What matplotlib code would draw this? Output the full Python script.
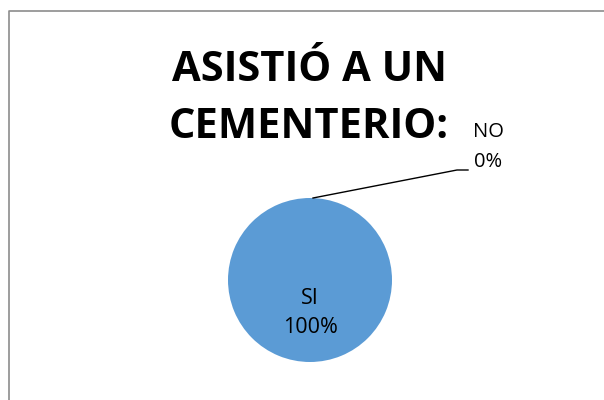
import matplotlib
matplotlib.use("Agg")
import matplotlib.pyplot as plt
import numpy as np

categories = ["SI", "NO"]
values = [100, 0]
colors = ["#5B9BD5", "#ED7D31"]
title = "ASISTIÓ A UN\nCEMENTERIO:"

fig = plt.figure(figsize=(6.04, 4.0), dpi=100)
ax = fig.add_axes([0, 0, 1, 1])

cx, cy, r = 310, 120, 82
wedges, _ = ax.pie(values, colors=colors, startangle=90, counterclock=False,
                   center=(cx, cy), radius=r, frame=True,
                   wedgeprops=dict(linewidth=0))
ax.set_xlim(0, 604)
ax.set_ylim(0, 400)
ax.set_aspect("equal")
ax.axis("off")

# chart border (top & left visible)
ax.plot([8.5, 8.5, 604], [0, 389, 389], color="#8c8c8c", lw=1.2)

total = sum(values)
font = ["Open Sans", "DejaVu Sans"]
for w, cat, v in zip(wedges, categories, values):
    pct = f"{v / total * 100:.0f}%"
    ang = np.deg2rad((w.theta1 + w.theta2) / 2)
    if v / total > 0.5:
        ax.text(310, 87, f"{cat}\n{pct}", ha="center", va="center",
                fontsize=15.5, family=font, linespacing=1.5)
    else:
        x0 = cx + r * np.cos(ang) + 3
        y0 = cy + r * np.sin(ang)
        ax.plot([x0, 457, 468], [y0, 230, 230], color="black", lw=1)
        ax.text(488, 253, f"{cat}\n{pct}", ha="center", va="center",
                fontsize=14.5, family=font, linespacing=1.62)

ax.text(309, 301, title, ha="center", va="center", fontsize=30,
        fontweight="bold", family=font, linespacing=1.52)

fig.savefig("out.png", dpi=100, facecolor="white")
